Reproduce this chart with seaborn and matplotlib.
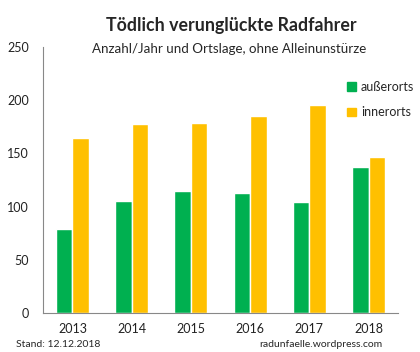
import numpy as np
import pandas as pd
import matplotlib.pyplot as plt
import seaborn as sns

sns.set_style("white")
plt.rcParams['font.family'] = ['Lato', 'DejaVu Sans']

jahre = ['2013', '2014', '2015', '2016', '2017', '2018']
ausserorts = [79, 105, 115, 113, 104, 137]
innerorts = [165, 178, 179, 185, 196, 147]
serien = ['außerorts', 'innerorts']
farben = ['#00B050', '#FFC000']

df = pd.DataFrame({
    'Jahr': jahre * 2,
    'Anzahl': ausserorts + innerorts,
    'Ortslage': [serien[0]] * len(jahre) + [serien[1]] * len(jahre),
})

fig = plt.figure(figsize=(4.2, 3.52), dpi=100)
ax = fig.add_axes([0.102, 0.111, 0.846, 0.755])

sns.barplot(data=df, x='Jahr', y='Anzahl', hue='Ortslage', palette=farben,
            width=0.56, gap=0, saturation=1, ax=ax)

ax.set_xlim(-0.5, len(jahre) - 0.5)
ax.set_ylim(0, 250)
ax.set_yticks([0, 50, 100, 150, 200, 250])
ax.set_xlabel('')
ax.set_ylabel('')

# tick marks sit between the categories
ax.set_xticks(np.arange(-0.5, len(jahre)), minor=True)
ax.tick_params(axis='x', which='major', length=0, pad=7, labelsize=9, colors='#222222')
ax.tick_params(axis='x', which='minor', length=4, color='#888888', direction='out')
ax.tick_params(axis='y', length=4, direction='out', labelsize=9, pad=6,
               color='#888888', labelcolor='#222222')

for s in ['top', 'right']:
    ax.spines[s].set_visible(False)
for s in ['left', 'bottom']:
    ax.spines[s].set_color('#888888')
    ax.spines[s].set_linewidth(0.8)

ax.legend_.remove()
handles = [plt.Rectangle((0, 0), 1, 1, color=c) for c in farben]
fig.legend(handles, serien, loc='upper left', bbox_to_anchor=(0.815, 0.785),
           frameon=False, fontsize=9, handlelength=0.7, handleheight=0.7,
           handletextpad=0.4, labelspacing=1.1, borderaxespad=0)

fig.text(0.55, 0.928, 'Tödlich verunglückte Radfahrer', ha='center', va='center',
         fontsize=12.8, fontweight='bold')
fig.text(0.546, 0.862, 'Anzahl/Jahr und Ortslage, ohne Alleinunstürze', ha='center',
         va='center', fontsize=9.6)
fig.text(0.037, 0.008, 'Stand: 12.12.2018', ha='left', va='bottom', fontsize=7.5)
fig.text(0.91, 0.008, 'radunfaelle.wordpress.com', ha='right', va='bottom', fontsize=7.5)

fig.savefig('out.png', dpi=100)
